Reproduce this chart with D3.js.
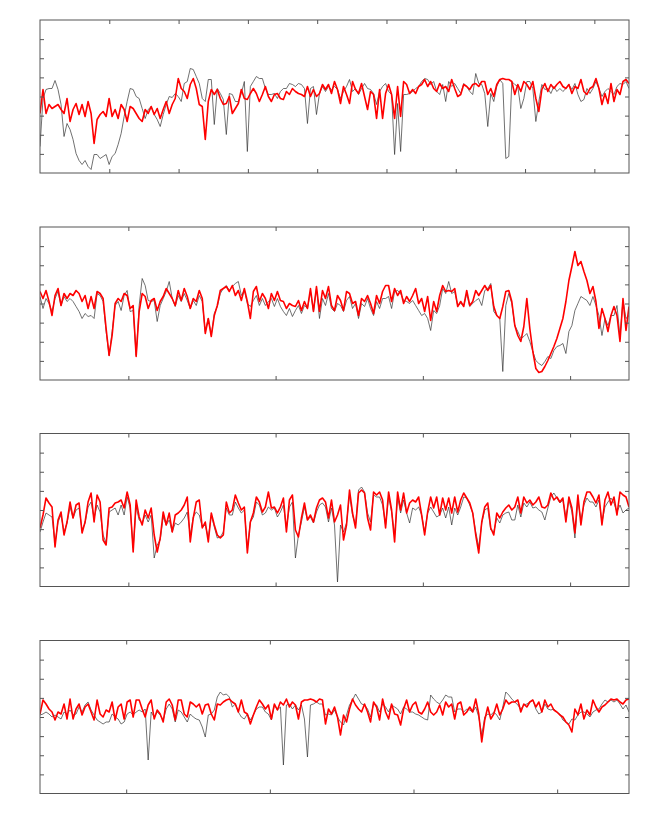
<!DOCTYPE html>
<html>
<head>
<meta charset="utf-8">
<script src="https://cdn.jsdelivr.net/npm/d3@7"></script>
<style>
html,body{margin:0;padding:0;background:#fff;}
svg{display:block;}
</style>
</head>
<body>
<script>
// ---- data (values are offsets from the centre of each panel, in axis units) ----
const p1Black = [-50,-2,7,8,8,16,7,-8,-40,-27,-33,-43,-57,-64,-68,-64,-70,-73,-58,-58,-62,-60,-58,-68,-60,-57,-48,-37,-20,-5,8,7,0,-2,-12,-22,-13,-10,-18,-23,-30,-18,-8,0,-1,3,0,-5,13,15,
 28,27,20,13,-2,-5,17,17,-28,8,3,-3,-38,3,2,-5,-5,3,15,-55,10,15,20,18,18,8,2,2,3,-2,5,8,8,13,12,10,13,12,8,-27,8,10,-18,3,10,5,10,7,10,
 7,-2,5,10,17,5,8,2,8,13,8,7,3,-8,5,10,13,5,2,-58,-7,-55,2,2,3,5,8,10,15,18,17,12,15,5,2,12,-5,15,10,13,8,3,13,10,5,2,23,13,12,
 3,-30,3,-5,10,17,13,-62,-60,15,12,10,-12,-2,15,15,8,-25,-5,12,7,8,3,10,5,8,5,8,12,7,13,2,-5,-3,8,3,8,15,8,0,5,8,5,2,10,13,12,15,8];
const p1Red = [-17,7,-17,-8,-12,-10,-8,-13,-17,-2,-25,-13,-7,-18,-8,-20,-5,-17,-47,-23,-18,-15,-20,-2,-20,-13,-22,-8,-13,-25,-10,-12,-17,-22,-25,-13,-17,-10,-18,-12,-22,-13,-5,-17,-8,-2,18,8,5,-2,
 12,18,8,-8,-10,-43,-5,7,2,7,-2,-8,-7,0,-17,-12,-7,7,-2,-3,3,8,3,-5,2,10,0,-5,2,3,-2,-3,5,2,8,5,3,2,0,10,0,7,0,3,12,7,12,3,15,
 7,-7,10,2,-7,15,7,3,13,0,-13,5,2,-22,7,-22,3,12,2,-22,10,-20,15,12,3,7,3,10,12,17,10,15,8,5,13,8,10,5,17,8,0,2,12,10,7,12,13,10,15,
 15,2,8,0,12,17,18,17,17,15,2,12,5,15,12,7,15,-2,-15,7,13,5,12,8,12,15,10,8,12,3,10,8,17,5,2,8,10,18,8,-8,3,-7,13,-5,7,2,15,17,13];

const p2Black = [7,-5,5,0,-8,5,12,-2,7,2,5,2,-3,-8,-15,-10,-13,-12,-15,10,8,2,-28,-52,-28,-2,2,-7,8,13,-8,-7,-52,-2,25,18,3,2,3,-18,-2,5,12,22,5,-3,8,2,10,3,-5,3,-2,8,2,-28,-15,-32,-10,-3,10,15,18,13,17,20,22,8,13,0,-3,3,8,-2,5,-2,2,5,-3,5,-3,-8,-12,-5,-13,-7,-2,-10,-2,-5,12,-8,15,-15,5,-2,10,-5,-8,0,-2,
 -8,3,7,-5,0,-15,0,-3,5,-5,-12,2,-5,5,5,7,-5,12,13,10,3,2,0,3,-2,-7,-12,-10,-15,-27,-7,-10,-2,15,10,22,10,12,-2,0,-2,10,-3,0,3,5,-2,13,15,20,-8,-12,-15,-68,-2,10,0,-22,-28,-35,-33,-30,-38,-48,-57,-60,-62,-58,-53,-55,-47,-43,-42,-40,-50,-28,-22,-7,0,7,5,3,-2,7,-2,-12,-32,-15,-22,-12,-12,-2,-33,3,-15,-12];
const p2Red = [12,5,13,2,-12,8,15,-2,10,5,10,8,13,10,2,8,-5,7,-5,12,10,5,-25,-52,-32,0,5,2,10,8,-5,-2,-53,-8,10,7,-5,3,5,-7,2,7,15,10,5,-2,13,3,15,7,-5,5,2,13,5,-30,-15,-33,-12,-2,13,15,17,12,18,8,13,3,15,2,-15,12,17,2,10,5,-5,10,3,12,3,2,-5,0,-2,-3,3,-7,2,-5,15,-8,17,-8,13,5,17,-2,-7,8,3,
 -7,12,10,0,2,-12,5,2,8,0,-10,8,0,12,18,18,2,15,8,13,0,7,2,8,15,0,5,-8,7,-17,2,-8,8,18,12,13,12,15,-3,2,-3,13,-2,2,13,8,13,18,13,18,-3,-12,-15,-3,12,13,2,-22,-32,-38,-23,5,-25,-48,-65,-69,-68,-63,-57,-50,-43,-35,-25,-15,2,23,37,52,38,42,32,23,10,17,2,-25,-5,-15,-28,-12,-3,-12,-38,5,-27,-3];

const p3Black = [-22,-12,-3,-5,-7,-33,-12,-5,-22,-13,3,-8,0,2,-20,-13,3,8,-8,5,-2,-25,-33,-2,0,2,-5,5,-5,13,2,-38,3,-10,-13,-5,-12,-5,-48,-35,-30,-7,-15,-10,-22,-13,-15,-12,-8,-2,-25,-7,-2,-5,-17,-15,-28,-5,-17,-28,-27,-22,2,-5,-5,8,2,-3,0,-38,-12,-7,8,5,-5,-3,3,0,2,-7,-2,5,-18,3,8,-48,-25,-12,3,-10,-7,-13,-2,5,7,3,-12,2,-15,-72,-15,
 -22,-13,15,-5,-15,20,23,18,-3,-12,15,13,13,5,-15,13,-2,-25,13,-3,10,-3,-13,2,0,3,-5,-22,-3,3,-2,-7,-5,2,-8,3,-15,2,-5,3,13,12,5,-3,-22,-37,-13,0,2,-20,-22,-8,-13,-5,-3,-2,-10,-10,5,-7,7,3,8,2,3,0,-2,-10,2,13,17,12,7,10,-7,10,-2,-28,10,-10,5,12,8,8,3,10,-12,3,8,12,7,-2,5,-3,0,2];
const p3Red = [-18,-5,12,7,3,-37,-10,-2,-25,-12,8,-8,5,7,-23,-12,8,17,-12,15,8,-30,-35,2,3,7,8,10,2,18,5,-42,10,-7,-15,0,-8,2,-25,-42,-28,-2,-15,-3,-22,-5,-3,0,5,13,-32,-8,8,10,-18,-12,-32,-3,-15,-25,-28,-25,8,-3,0,15,7,0,3,-43,-12,-3,13,8,-2,3,18,2,3,-3,3,12,-22,10,15,-20,-27,-8,7,-10,-5,-12,2,10,12,8,-8,10,-12,-5,5,
 -30,-15,20,-3,-18,17,20,17,-8,-20,18,15,18,10,-18,18,0,-32,18,0,17,-3,7,10,8,13,-5,-25,-2,13,2,13,-5,12,0,12,-3,13,-2,10,17,12,7,-3,-25,-43,-12,3,7,-18,-25,-3,-8,-2,2,5,0,3,13,-3,13,7,10,5,8,13,3,2,5,17,10,13,8,12,-12,13,2,-23,15,-15,8,18,18,13,7,15,-15,10,18,5,13,-5,18,15,13,3];

const p4Black = [2,3,5,3,0,2,0,-2,5,3,7,2,3,10,5,12,15,7,2,-3,-5,-7,-5,-5,3,0,-2,-7,-5,3,5,2,5,7,5,8,-43,5,0,5,2,-3,8,13,8,-5,7,5,0,-5,3,0,-2,-3,-10,-20,2,3,7,20,25,22,23,20,10,13,5,0,-2,3,-3,2,8,10,10,5,3,-3,12,7,10,-48,12,13,8,12,7,12,-2,-40,12,13,15,13,13,2,3,2,7,0,-5,
 -8,2,12,17,23,18,13,12,8,0,13,12,5,13,10,5,12,10,8,3,10,8,5,5,3,2,0,-2,-3,22,18,15,13,17,22,20,20,5,8,8,5,8,7,5,10,0,-18,0,3,2,5,2,-3,10,25,22,18,15,12,8,12,13,15,17,8,3,5,13,8,7,8,5,3,-3,-5,-7,-2,-3,2,5,5,3,0,5,7,8,13,17,15,17,15,17,13,8,12,5];
const p4Red = [3,17,13,8,5,-3,5,3,13,-2,18,-2,8,13,2,10,13,5,-3,17,3,0,7,5,15,-3,10,13,-2,15,17,0,17,17,8,0,12,17,-2,7,3,-5,15,18,12,-3,17,17,3,0,15,13,10,13,3,12,13,3,-3,13,12,15,17,18,15,13,5,17,5,3,-7,2,10,17,13,8,12,-2,13,7,15,12,18,10,15,12,-2,15,17,17,18,17,15,18,17,-7,8,3,10,0,-18,
 2,-5,8,18,12,8,5,13,5,-5,15,10,-3,18,5,-2,13,3,2,-8,8,17,5,12,15,5,3,8,15,5,2,5,12,2,15,10,13,-2,13,15,2,5,10,5,18,3,-25,-3,10,-2,3,13,2,8,17,13,15,15,17,5,13,10,15,17,10,15,5,17,10,13,7,5,2,0,-5,-8,-15,8,2,13,-2,7,2,17,10,5,10,12,15,18,17,18,15,13,17,18];

// axis extents and tick values (ticks carry no labels)
const xDomainMax = [850, 4, 4, 4.1];
const xTickValues = [
  [100,200,300,400,500,600,700,800],
  [0.6,1.6,2.6,3.6],
  [0.6,1.6,2.6,3.6],
  [0.6,1.6,2.6,3.6]
];
const yHalf = 76.5;
const yTickValues = [-57.375,-38.25,-19.125,0,19.125,38.25,57.375];

const panelBlack = [p1Black, p2Black, p3Black, p4Black];
const panelRed = [p1Red, p2Red, p3Red, p4Red];
const panelTop = [20, 227, 433.5, 640.5];

const W = 668, H = 827;
const left = 40, pw = 589, ph = 153;

const svg = d3.select("body").append("svg").attr("width", W).attr("height", H);
svg.append("rect").attr("width", W).attr("height", H).attr("fill", "#fff");

const axisColor = "#555";

for (let i = 0; i < 4; i++) {
  const g = svg.append("g").attr("transform", `translate(${left},${panelTop[i]})`);
  const x = d3.scaleLinear().domain([0, xDomainMax[i]]).range([0, pw]);
  const y = d3.scaleLinear().domain([-yHalf, yHalf]).range([ph, 0]);

  const cid = "clip" + i;
  g.append("clipPath").attr("id", cid).append("rect").attr("width", pw).attr("height", ph);

  const mkLine = arr => d3.line()
      .x((d, k) => x(k * xDomainMax[i] / (arr.length - 1)))
      .y(d => y(d))(arr);

  const lines = g.append("g").attr("clip-path", `url(#${cid})`);
  lines.append("path").attr("d", mkLine(panelBlack[i]))
    .attr("fill", "none").attr("stroke", "#333").attr("stroke-width", 0.7)
    .attr("stroke-linejoin", "round");
  lines.append("path").attr("d", mkLine(panelRed[i]))
    .attr("fill", "none").attr("stroke", "#ff0000").attr("stroke-width", 1.6)
    .attr("stroke-linejoin", "round");

  const tl = 4;
  const styleAxis = sel => {
    sel.selectAll(".domain").remove();
    sel.selectAll(".tick line").attr("stroke", axisColor).attr("stroke-width", 1);
    sel.selectAll("text").remove();
  };
  g.append("g").call(d3.axisLeft(y).tickValues(yTickValues).tickSize(-tl).tickFormat("")).call(styleAxis);
  g.append("g").attr("transform", `translate(${pw},0)`)
    .call(d3.axisRight(y).tickValues(yTickValues).tickSize(-tl).tickFormat("")).call(styleAxis);
  g.append("g").attr("transform", `translate(0,${ph})`)
    .call(d3.axisBottom(x).tickValues(xTickValues[i]).tickSize(-tl).tickFormat("")).call(styleAxis);
  g.append("g")
    .call(d3.axisTop(x).tickValues(xTickValues[i]).tickSize(-tl).tickFormat("")).call(styleAxis);

  g.append("rect").attr("x", 0).attr("y", 0).attr("width", pw).attr("height", ph)
    .attr("fill", "none").attr("stroke", axisColor).attr("stroke-width", 1);
}
</script>
</body>
</html>
